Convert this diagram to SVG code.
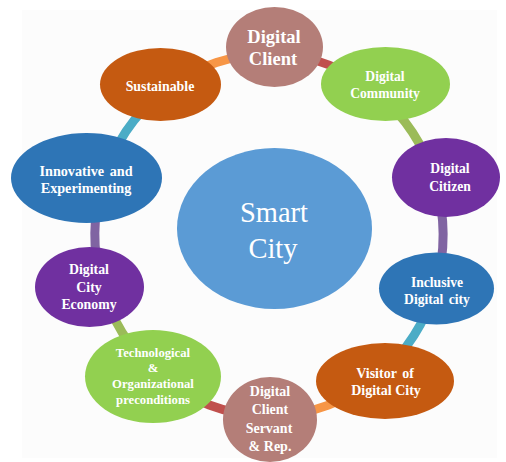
<svg xmlns="http://www.w3.org/2000/svg" width="506" height="462" viewBox="0 0 506 462">
<style>
.t{font-family:"Liberation Serif","Times New Roman",serif;font-weight:bold;fill:#FFFFFF;text-anchor:middle}
.c{fill:none;stroke-width:9}
.red{stroke:#C0504D}.grn{stroke:#9BBB59}.pur{stroke:#8064A2}.tea{stroke:#4BACC6}.org{stroke:#F79646}
.rose{fill:#B47E78}.lime{fill:#92D050}.vio{fill:#7030A0}.blu{fill:#2E75B6}.rust{fill:#C55A11}
</style>
<rect x="0" y="0" width="506" height="462" fill="#FFFFFF"/>
<rect x="22" y="10" width="475" height="448" fill="#FCFCFC"/>
<g id="connectors">
<path class="c red" d="M274.2,54.1 A174,181 0 0 1 377.8,93.7"/>
<path class="c grn" d="M377.8,93.7 A174,181 0 0 1 434.9,180.6"/>
<path class="c pur" d="M434.9,180.6 A174,181 0 0 1 435.3,288.2"/>
<path class="c tea" d="M435.3,288.2 A174,181 0 0 1 379.9,374.5"/>
<path class="c org" d="M379.9,374.5 A174,181 0 0 1 269.9,416"/>
<path class="c red" d="M269.9,416 A174,181 0 0 1 156,372.6"/>
<path class="c grn" d="M156,372.6 A174,181 0 0 1 101.3,283.4"/>
<path class="c pur" d="M101.3,283.4 A174,181 0 0 1 102.3,183"/>
<path class="c tea" d="M102.3,183 A174,181 0 0 1 164.5,90.3"/>
<path class="c org" d="M164.5,90.3 A174,181 0 0 1 274.2,54.1"/>
</g>
<g id="smart-city">
<ellipse cx="274.5" cy="228.5" rx="97.5" ry="80.5" fill="#5B9BD5"/>
<text x="274" y="221.5" font-family="Liberation Serif, Times New Roman, serif" font-size="28.5" fill="#FFFFFF" text-anchor="middle">Smart</text>
<text x="273" y="258" font-family="Liberation Serif, Times New Roman, serif" font-size="28.5" fill="#FFFFFF" text-anchor="middle">City</text>
</g>
<g id="digital-client">
<ellipse class="rose" cx="274.5" cy="47" rx="48.5" ry="40"/>
<text class="t" x="274" y="43" font-size="18.5">Digital</text>
<text class="t" x="273" y="65" font-size="18.5">Client</text>
</g>
<g id="digital-community">
<ellipse class="lime" cx="385.5" cy="84" rx="64.5" ry="37"/>
<text class="t" x="385" y="80.5" font-size="13.6">Digital</text>
<text class="t" x="385" y="97.5" font-size="13.6">Community</text>
</g>
<g id="digital-citizen">
<ellipse class="vio" cx="446" cy="177.5" rx="54" ry="39.5"/>
<text class="t" x="450" y="173.3" font-size="13.6">Digital</text>
<text class="t" x="450" y="190.7" font-size="13.6">Citizen</text>
</g>
<g id="inclusive-digital-city">
<ellipse class="blu" cx="436.5" cy="288.5" rx="57.5" ry="36"/>
<text class="t" x="437" y="286.7" font-size="13.6">Inclusive</text>
<text class="t" x="437" y="304" font-size="13.6" word-spacing="2">Digital city</text>
</g>
<g id="visitor-of-digital-city">
<ellipse class="rust" cx="385" cy="381" rx="69" ry="38"/>
<text class="t" x="385" y="377.7" font-size="14" word-spacing="2">Visitor of</text>
<text class="t" x="386" y="395.3" font-size="14">Digital City</text>
</g>
<g id="digital-client-servant">
<ellipse class="rose" cx="270" cy="419.5" rx="47" ry="42.5"/>
<text class="t" x="270" y="396" font-size="14">Digital</text>
<text class="t" x="270" y="414" font-size="14">Client</text>
<text class="t" x="269" y="432.7" font-size="14">Servant</text>
<text class="t" x="270" y="450.7" font-size="14">&amp; Rep.</text>
</g>
<g id="technological-organizational">
<ellipse class="lime" cx="153" cy="376.5" rx="68" ry="46.5"/>
<text class="t" x="153" y="357" font-size="12.7">Technological</text>
<text class="t" x="153" y="372" font-size="12.7">&amp;</text>
<text class="t" x="153" y="388.3" font-size="12.7">Organizational</text>
<text class="t" x="153" y="404.3" font-size="12.7">preconditions</text>
</g>
<g id="digital-city-economy">
<ellipse class="vio" cx="89.5" cy="287" rx="54.5" ry="40"/>
<text class="t" x="89" y="273.7" font-size="13.8">Digital</text>
<text class="t" x="89" y="291.7" font-size="13.8">City</text>
<text class="t" x="89" y="309.3" font-size="13.8">Economy</text>
</g>
<g id="innovative-experimenting">
<ellipse class="blu" cx="86.5" cy="178" rx="75.5" ry="45"/>
<text class="t" x="86" y="175.7" font-size="14.2" word-spacing="2">Innovative and</text>
<text class="t" x="86" y="193.3" font-size="14.2">Experimenting</text>
</g>
<g id="sustainable">
<ellipse class="rust" cx="160.5" cy="84.5" rx="60.5" ry="36.5"/>
<text class="t" x="160" y="90.5" font-size="13.9">Sustainable</text>
</g>
</svg>
